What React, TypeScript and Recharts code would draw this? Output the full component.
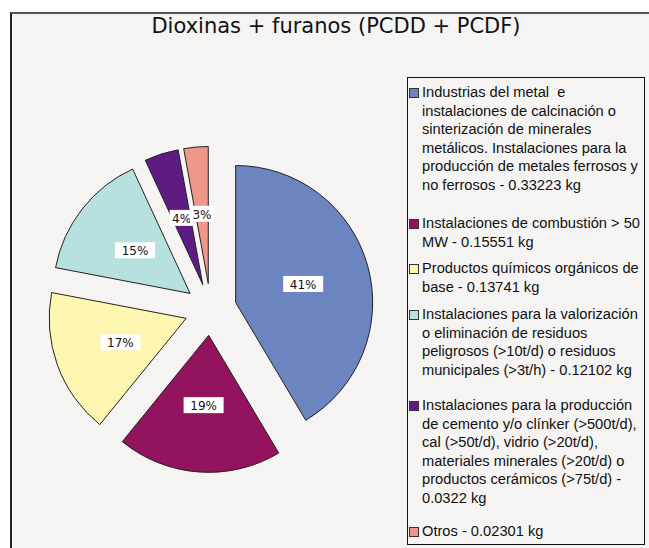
import React from 'react';
import { PieChart, Pie, Cell, Legend, Sector } from 'recharts';

// sectores (los saltos de línea siguen el original)
const names = [
  'Industrias del metal  e\ninstalaciones de calcinación o\nsinterización de minerales\nmetálicos. Instalaciones para la\nproducción de metales ferrosos y\nno ferrosos',
  'Instalaciones de combustión > 50\nMW',
  'Productos químicos orgánicos de\nbase',
  'Instalaciones para la valorización\no eliminación de residuos\npeligrosos (>10t/d) o residuos\nmunicipales (>3t/h)',
  'Instalaciones para la producción\nde cemento y/o clínker (>500t/d),\ncal (>50t/d), vidrio (>20t/d),\nmateriales minerales (>20t/d) o\nproductos cerámicos (>75t/d)',
  'Otros',
];
const valuesKg = [0.33223, 0.15551, 0.13741, 0.12102, 0.0322, 0.02301];
const valueSeparators = [' - ', ' - ', ' - ', ' - ', ' -\n', ' - '];
const colors = ['#6c84c0', '#93135f', '#fdf6b0', '#b7e1de', '#5d1b83', '#f0978b'];

const data = names.map((name, i) => ({ name, value: valuesKg[i] }));

const RAD = Math.PI / 180;
const EXPLODE = 26;
const LABEL_R = 70;

const ExplodedSector = (props: any) => {
  const { cx, cy, midAngle } = props;
  const dx = EXPLODE * Math.cos(-midAngle * RAD);
  const dy = EXPLODE * Math.sin(-midAngle * RAD);
  return <Sector {...props} cx={cx + dx} cy={cy + dy} />;
};

const renderLabel = (props: any) => {
  const { cx, cy, midAngle, percent } = props;
  const r = EXPLODE + LABEL_R;
  const x = cx + r * Math.cos(-midAngle * RAD);
  const y = cy + r * Math.sin(-midAngle * RAD);
  const text = `${Math.round(percent * 100)}%`;
  const w = text.length * 16 - 8;
  return (
    <g>
      <rect x={x - w / 2} y={y - 8} width={w} height={16} fill="#ffffff" />
      <text
        x={x}
        y={y + 1}
        textAnchor="middle"
        dominantBaseline="central"
        fontSize={12}
        fontFamily="DejaVu Sans"
        fill="#111"
      >
        {text}
      </text>
    </g>
  );
};

const legendGaps = [20, 8, 9, 17, 15, 0];

// el orden de la leyenda sigue el de los datos, no el alfabético
const renderLegend = () => (
  <div
    style={{
      width: 238,
      height: 468,
      boxSizing: 'border-box',
      border: '1px solid #111',
      background: '#f5f4f2',
      padding: '5px 2px 0 1px',
      fontFamily: '"Liberation Sans", Arial, sans-serif',
      fontSize: 14.67,
      lineHeight: '18.5px',
      color: '#111',
    }}
  >
    {names.map((name, i) => (
      <div key={i} style={{ display: 'flex', marginBottom: legendGaps[i] }}>
        <span
          style={{
            flex: '0 0 auto',
            width: 8,
            height: 8,
            marginTop: 5,
            marginRight: 3,
            border: '1px solid #333',
            background: colors[i],
          }}
        />
        <span style={{ whiteSpace: 'pre' }}>
          {name + valueSeparators[i] + valuesKg[i] + ' kg'}
        </span>
      </div>
    ))}
  </div>
);

export default function App() {
  return (
    <div
      style={{
        position: 'fixed',
        left: 0,
        top: 0,
        width: 649,
        height: 548,
        background: '#ffffff',
        overflow: 'hidden',
      }}
    >
      <div
        style={{
          position: 'absolute',
          left: 10,
          top: 12,
          width: 700,
          height: 600,
          borderTop: '2px solid #555',
          borderLeft: '2px solid #222',
          background: '#f5f4f2',
        }}
      />
      <div
        style={{
          position: 'absolute',
          left: 0,
          top: 14,
          width: 672,
          textAlign: 'center',
          fontFamily: '"DejaVu Sans", Tahoma, sans-serif',
          fontSize: 21,
          color: '#111',
        }}
      >
        Dioxinas + furanos (PCDD + PCDF)
      </div>
      <div style={{ position: 'absolute', left: 0, top: 0 }}>
        <PieChart width={649} height={548} margin={{ top: 0, right: 0, bottom: 0, left: 0 }}>
          <Pie
            data={data}
            dataKey="value"
            nameKey="name"
            cx={210.6}
            cy={309.4}
            outerRadius={137}
            startAngle={90}
            endAngle={-270}
            stroke="#222"
            strokeWidth={1}
            shape={ExplodedSector}
            label={renderLabel}
            labelLine={false}
            isAnimationActive={false}
          >
            {data.map((_, i) => (
              <Cell key={i} fill={colors[i]} />
            ))}
          </Pie>
          <Legend
            layout="vertical"
            align="right"
            verticalAlign="top"
            content={renderLegend}
            wrapperStyle={{ position: 'absolute', left: 407, top: 77, width: 238, height: 468 }}
          />
        </PieChart>
      </div>
    </div>
  );
}
